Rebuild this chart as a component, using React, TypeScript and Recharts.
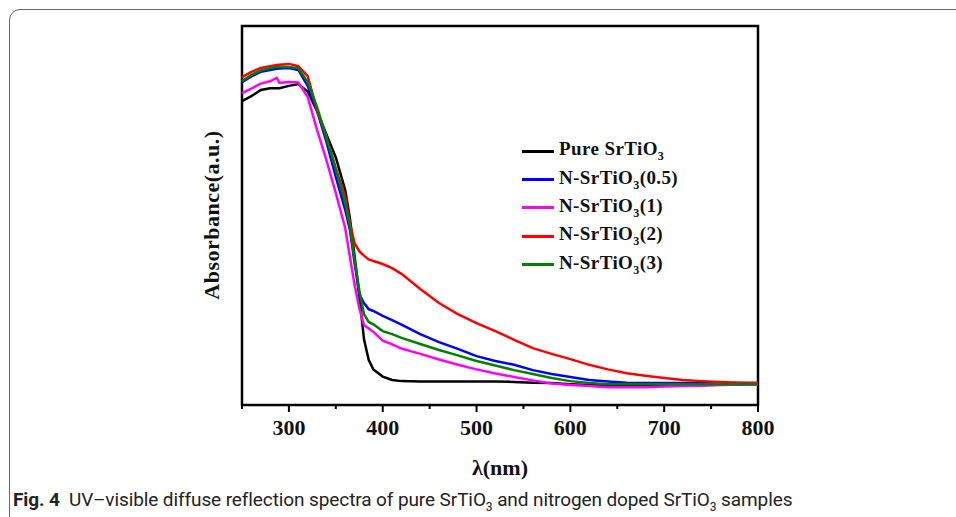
import React from "react";
import { LineChart, Line, XAxis, YAxis, ReferenceArea, Legend } from "recharts";

// wavelength grid (nm)
const wavelength = [
  250, 260, 270, 280, 287, 290, 300, 310, 320, 330,
  340, 350, 360, 365, 370, 375, 380, 385, 390, 400,
  410, 420, 440, 460, 480, 500, 520, 540, 560, 580,
  600, 620, 640, 660, 680, 700, 720, 740, 760, 780,
  800,
];

// absorbance (a.u.)
const pure = [
  80.2, 81.5, 83.1, 83.6, 83.6, 83.6, 84.2, 84.7, 82.7, 77.6,
  71.4, 65.3, 56.7, 49.3, 39.3, 29.0, 17.4, 11.9, 9.4, 7.5,
  6.6, 6.3, 6.2, 6.2, 6.2, 6.2, 6.2, 6.1, 5.9, 5.8,
  5.5, 5.3, 5.3, 5.3, 5.3, 5.3, 5.3, 5.3, 5.4, 5.4,
  5.5,
];
const n05 = [
  85.2, 86.7, 87.9, 88.4, 88.7, 88.8, 88.9, 88.4, 84.2, 77.6,
  69.4, 60.2, 51.5, 46.2, 37.5, 29.3, 26.9, 25.3, 24.8, 23.5,
  22.4, 21.2, 18.7, 16.6, 14.8, 12.9, 11.6, 10.6, 9.2, 8.2,
  7.4, 6.6, 6.2, 5.9, 5.8, 5.8, 5.8, 5.8, 5.8, 5.8,
  5.8,
];
const n1 = [
  82.3, 83.5, 84.8, 85.4, 86.3, 85.0, 85.2, 85.1, 81.3, 72.6,
  64.6, 55.9, 46.7, 39.1, 31.7, 25.6, 21.1, 20.2, 19.3, 17.0,
  16.0, 14.9, 13.5, 12.0, 10.6, 9.4, 8.3, 7.4, 6.5, 5.7,
  5.3, 5.0, 4.7, 4.7, 4.7, 4.9, 5.0, 5.1, 5.3, 5.4,
  5.4,
];
const n2 = [
  86.5, 87.9, 88.9, 89.4, 89.7, 89.8, 90.0, 89.4, 86.8, 77.8,
  70.7, 62.5, 54.9, 48.0, 42.7, 40.6, 39.4, 38.4, 38.0, 37.2,
  36.1, 34.6, 30.6, 26.9, 24.0, 21.6, 19.5, 17.2, 15.0, 13.5,
  12.1, 10.6, 9.4, 8.4, 7.7, 7.1, 6.6, 6.3, 6.1, 5.9,
  5.8,
];
const n3 = [
  85.5, 87.1, 88.3, 88.9, 89.2, 89.2, 89.2, 88.9, 85.2, 78.6,
  70.7, 62.0, 53.3, 47.0, 38.3, 30.3, 24.0, 21.9, 21.3, 19.5,
  18.7, 17.7, 16.1, 14.5, 13.1, 11.6, 10.4, 9.2, 8.2, 7.1,
  6.3, 5.8, 5.5, 5.5, 5.5, 5.5, 5.5, 5.5, 5.5, 5.5,
  5.5,
];

const xTicks = [250, 300, 350, 400, 450, 500, 550, 600, 650, 700, 750, 800];

const series = [
  { key: "pure", name: "Pure SrTiO", suffix: "", color: "#000000" },
  { key: "n05", name: "N-SrTiO", suffix: "(0.5)", color: "#0000ff" },
  { key: "n1", name: "N-SrTiO", suffix: "(1)", color: "#ff00ff" },
  { key: "n2", name: "N-SrTiO", suffix: "(2)", color: "#ff0000" },
  { key: "n3", name: "N-SrTiO", suffix: "(3)", color: "#008000" },
];

const data = wavelength.map((w, i) => ({
  w,
  pure: pure[i],
  n05: n05[i],
  n1: n1[i],
  n2: n2[i],
  n3: n3[i],
}));

const serif = '"Liberation Serif", "Times New Roman", serif';

const XTick = (props: any) => {
  const { x, y, payload } = props;
  const major = payload.value % 100 === 0;
  return (
    <g>
      <line x1={x} x2={x} y1={y} y2={y + (major ? 7 : 4)} stroke="#000" strokeWidth={2} />
      {major && (
        <text
          x={x}
          y={y + 30}
          textAnchor="middle"
          fontFamily={serif}
          fontWeight="bold"
          fontSize={22}
          fill="#111"
        >
          {payload.value}
        </text>
      )}
    </g>
  );
};

const LegendBox = () => (
  <div style={{ fontFamily: serif, fontWeight: "bold", fontSize: 19, color: "#111" }}>
    {series.map((s) => (
      <div key={s.key} style={{ display: "flex", alignItems: "center", height: 28.4 }}>
        <div style={{ width: 32, height: 3, background: s.color, marginRight: 5 }} />
        <span style={{ letterSpacing: 0.4 }}>
          {s.name}
          <sub style={{ fontSize: 12 }}>3</sub>
          {s.suffix}
        </span>
      </div>
    ))}
  </div>
);

export default function App() {
  return (
    <div
      style={{
        position: "fixed",
        left: 0,
        top: 0,
        width: 956,
        height: 517,
        overflow: "hidden",
        background: "#fff",
      }}
    >
      <div
        style={{
          position: "absolute",
          left: 9,
          top: 9,
          width: 1000,
          height: 600,
          border: "1.5px solid #666",
          borderRadius: 11,
        }}
      />
      <LineChart
        width={956}
        height={517}
        data={data}
        margin={{ top: 26, right: 198, bottom: 82, left: 242 }}
        style={{ position: "absolute", left: 0, top: 0 }}
      >
        <XAxis
          dataKey="w"
          type="number"
          domain={[250, 800]}
          ticks={xTicks}
          interval={0}
          height={30}
          axisLine={false}
          tickLine={false}
          tickSize={0}
          tickMargin={0}
          tick={<XTick />}
        />
        <YAxis hide type="number" domain={[0, 100]} />
        {series.map((s) => (
          <Line
            key={s.key}
            type="linear"
            dataKey={s.key}
            stroke={s.color}
            strokeWidth={2.5}
            dot={false}
            isAnimationActive={false}
          />
        ))}
        <ReferenceArea
          x1={250}
          x2={800}
          y1={0}
          y2={100}
          fill="none"
          stroke="#000"
          strokeWidth={2.5}
        />
        <Legend
          layout="vertical"
          align="center"
          verticalAlign="middle"
          content={<LegendBox />}
          wrapperStyle={{ left: 522, top: 137, width: 220 }}
        />
      </LineChart>
      <div
        style={{
          position: "absolute",
          left: 212,
          top: 215,
          transform: "translate(-50%, -50%) rotate(-90deg)",
          fontFamily: serif,
          fontWeight: "bold",
          fontSize: 22,
          lineHeight: 1,
          letterSpacing: 0.5,
          whiteSpace: "nowrap",
          color: "#111",
        }}
      >
        Absorbance(a.u.)
      </div>
      <div
        style={{
          position: "absolute",
          left: 500,
          top: 468,
          transform: "translate(-50%, -50%)",
          fontFamily: serif,
          fontWeight: "bold",
          fontSize: 22,
          lineHeight: 1,
          whiteSpace: "nowrap",
          color: "#111",
        }}
      >
        λ(nm)
      </div>
      <div
        style={{
          position: "absolute",
          left: 13,
          top: 488,
          fontFamily: "Roboto, sans-serif",
          fontSize: 19,
          lineHeight: "24px",
          letterSpacing: -0.1,
          whiteSpace: "nowrap",
          color: "#222",
        }}
      >
        <b>Fig. 4</b>&nbsp; UV–visible diffuse reflection spectra of pure SrTiO
        <sub style={{ fontSize: 12 }}>3</sub> and nitrogen doped SrTiO
        <sub style={{ fontSize: 12 }}>3</sub> samples
      </div>
    </div>
  );
}
